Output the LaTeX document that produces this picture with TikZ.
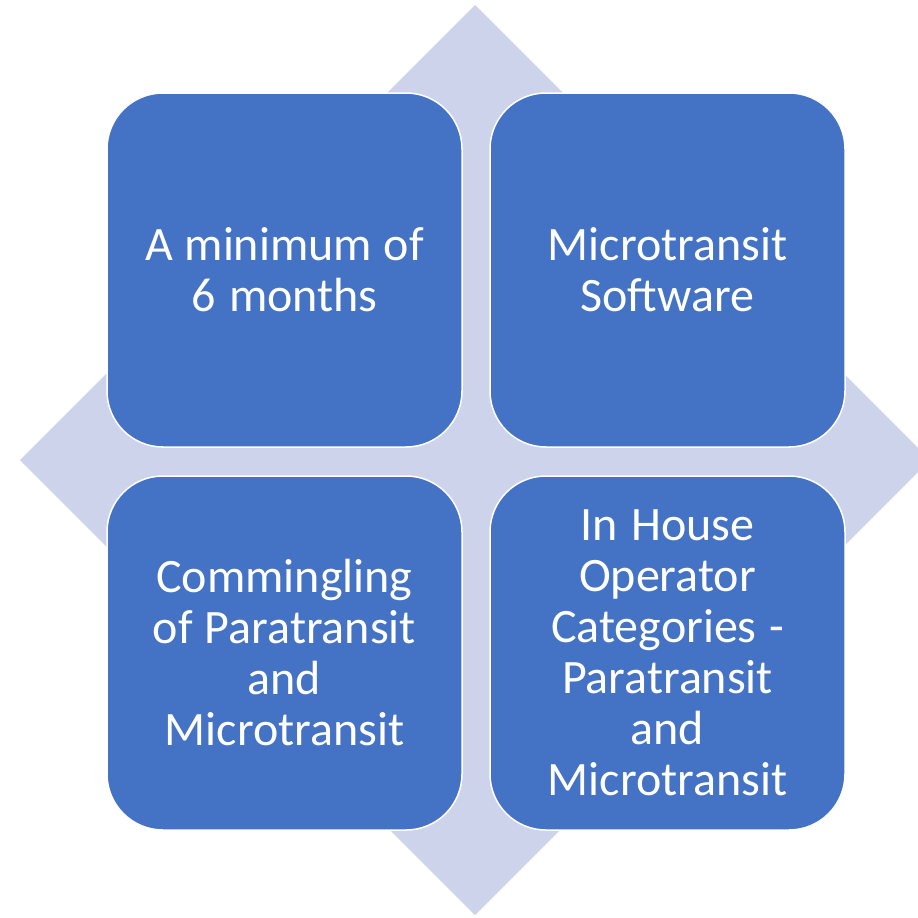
\documentclass[tikz,border=0pt]{standalone}
\usepackage{fontspec}
\setmainfont{Carlito}
\definecolor{boxblue}{HTML}{4472C4}
\definecolor{diamondfill}{HTML}{CDD3EA}
\newcommand\tsp{\spaceskip=10.8pt plus 3pt minus 2pt\relax}
\begin{document}
\begin{tikzpicture}[x=1pt,y=-1pt,
  quad/.style={draw=white, line width=1.5pt, fill=boxblue, rounded corners=56pt},
  quadtext/.style={text=white, align=center, text width=345pt, font=\fontsize{48}{51}\selectfont}]
\useasboundingbox (0,0) rectangle (918,918);
\fill[diamondfill] (475,5) -- (930,460) -- (475,915) -- (20,460) -- cycle;
\draw[quad] (107,93) rectangle (462,447);
\draw[quad] (490,93) rectangle (845,447);
\draw[quad] (107,476) rectangle (462,830);
\draw[quad] (490,476) rectangle (845,830);
\node[quadtext] (tl) at (284.5,270) {\tsp A minimum of\\6 months};
\node[quadtext] (tr) at (667.5,270) {\tsp Microtransit\\Software};
\node[quadtext] (bl) at (284.5,653) {\tsp Commingling\\of Paratransit\\and\\Microtransit};
\node[quadtext] (br) at (667.5,653) {\tsp In House\\Operator\\Categories -\\Paratransit\\and\\Microtransit};
\end{tikzpicture}
\end{document}
